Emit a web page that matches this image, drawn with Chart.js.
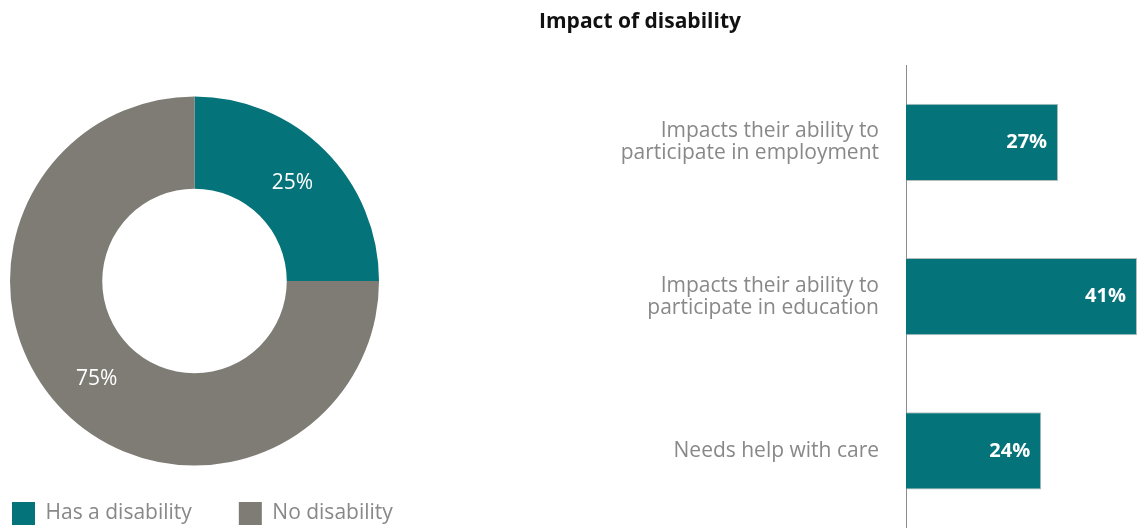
<!DOCTYPE html>
<html>
<head>
<meta charset="utf-8">
<script src="https://cdn.jsdelivr.net/npm/chart.js@4/dist/chart.umd.min.js"></script>
<style>
  body { margin: 0; background: #fff; }
  #wrap { position: relative; width: 1137px; height: 528px; overflow: hidden; }
  #donut { position: absolute; left: -35px; top: 0; }
  #impact { position: absolute; left: 143px; top: 0; }
</style>
</head>
<body>
<div id="wrap">
  <canvas id="donut" width="500" height="535"></canvas>
  <canvas id="impact" width="994" height="528"></canvas>
</div>
<script>
const donutLabels = ['Has a disability', 'No disability'];
const donutValues = [25, 75];
const impactLabels = [
  ['Impacts their ability to', 'participate in employment'],
  ['Impacts their ability to', 'participate in education'],
  'Needs help with care'
];
const impactValues = [27, 41, 24];

const teal = '#04737a';
const grey = '#7e7c75';
const fontFamily = "'Open Sans', sans-serif";

Chart.defaults.font.family = fontFamily;
Chart.defaults.animation = false;

// writes "NN%" on each arc / bar
const valueLabels = {
  id: 'valueLabels',
  afterDatasetsDraw(chart, args, opts) {
    const ctx = chart.ctx;
    const meta = chart.getDatasetMeta(0);
    ctx.save();
    ctx.fillStyle = '#fff';
    ctx.font = opts.font;
    ctx.textBaseline = 'middle';
    meta.data.forEach((el, i) => {
      const text = chart.data.datasets[0].data[i] + '%';
      if (chart.config.type === 'doughnut') {
        const p = el.tooltipPosition();
        ctx.textAlign = 'center';
        ctx.fillText(text, p.x, p.y);
      } else {
        ctx.textAlign = 'right';
        ctx.fillText(text, el.x - 11, el.y);
      }
    });
    ctx.restore();
  }
};

// keep the ring in a fixed square so the legend can use the full width below it
const ringBox = {
  id: 'ringBox',
  afterLayout(chart, args, opts) {
    const { left, top, size } = opts;
    chart.chartArea = {
      left, top, right: left + size, bottom: top + size, width: size, height: size
    };
  }
};

new Chart(document.getElementById('donut'), {
  type: 'doughnut',
  data: {
    labels: donutLabels,
    datasets: [{
      data: donutValues,
      backgroundColor: [teal, grey],
      borderWidth: 0
    }]
  },
  options: {
    responsive: false,
    cutout: '50%',
    layout: { padding: 0 },
    plugins: {
      legend: {
        position: 'bottom',
        align: 'start',
        labels: {
          boxWidth: 23,
          boxHeight: 23,
          padding: 47,
          color: '#888',
          font: { size: 21 }
        }
      },
      tooltip: { enabled: false },
      ringBox: { left: 45, top: 96.5, size: 369 },
      valueLabels: { font: '21px ' + fontFamily }
    }
  },
  plugins: [ringBox, valueLabels]
});

new Chart(document.getElementById('impact'), {
  type: 'bar',
  data: {
    labels: impactLabels,
    datasets: [{
      data: impactValues,
      backgroundColor: teal,
      borderColor: 'rgba(150,160,160,0.7)',
      borderWidth: 1,
      barPercentage: 0.5,
      categoryPercentage: 1
    }]
  },
  options: {
    responsive: false,
    indexAxis: 'y',
    layout: { padding: 0 },
    scales: {
      x: { display: false, min: 0, max: 41 },
      y: {
        grid: { display: false },
        border: { display: true, color: '#8c8c8c', width: 1 },
        ticks: {
          color: '#888',
          padding: 19,
          font: { size: 21, lineHeight: 1.05 }
        },
        afterFit(scale) {
          scale.width = 763;
          scale.paddingTop = 0;
          scale.paddingBottom = 0;
        }
      }
    },
    plugins: {
      legend: { display: false },
      tooltip: { enabled: false },
      title: {
        display: true,
        text: 'Impact of disability',
        color: '#111',
        font: { size: 21, weight: 'bold' },
        padding: { top: 9, bottom: 31 }
      },
      valueLabels: { font: 'bold 20px ' + fontFamily }
    }
  },
  plugins: [valueLabels]
});
</script>
</body>
</html>
